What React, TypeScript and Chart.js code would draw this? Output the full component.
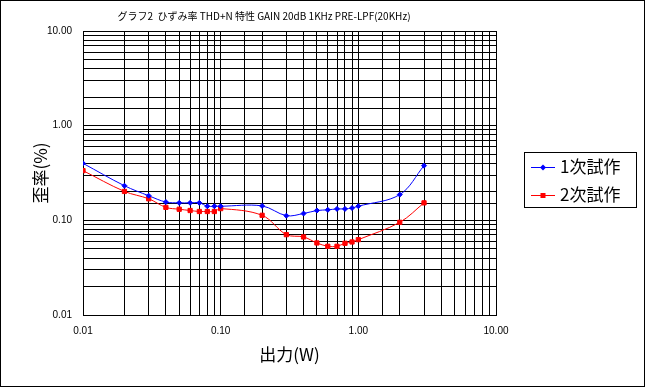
import React, { useEffect, useRef } from "react";
import { Chart, registerables } from "chart.js";

Chart.register(...registerables);

const outputW: number[] = [0.01, 0.02, 0.03, 0.04, 0.05, 0.06, 0.07, 0.08, 0.09, 0.1, 0.2, 0.3, 0.4, 0.5, 0.6, 0.7, 0.8, 0.9, 1.0, 2.0, 3.0];
const trial1: number[] = [0.40, 0.232, 0.182, 0.156, 0.153, 0.153, 0.153, 0.141, 0.141, 0.141, 0.142, 0.112, 0.118, 0.127, 0.129, 0.132, 0.132, 0.135, 0.141, 0.187, 0.378];
const trial2: number[] = [0.335, 0.202, 0.169, 0.137, 0.131, 0.127, 0.124, 0.124, 0.124, 0.133, 0.113, 0.0706, 0.0668, 0.0577, 0.0532, 0.0532, 0.0572, 0.0591, 0.0625, 0.0953, 0.153];
const seriesNames: string[] = ["1次試作", "2次試作"];
const titleText = "グラフ2  ひずみ率 THD+N 特性 GAIN 20dB 1KHz PRE-LPF(20KHz)";
const xTitle = "出力(W)";
const yTitle = "歪率(%)";

const JP = '"Noto Sans CJK JP", "Noto Sans", sans-serif';
const TICK_FONT = '"Liberation Sans", Arial, sans-serif';

const tickCb = (value: any) => {
  const v = Number(value);
  const l = Math.log10(v);
  if (Math.abs(l - Math.round(l)) < 1e-6) return v.toFixed(2);
  return "";
};

const decorPlugin = {
  id: "decor",
  afterDraw(chart: any) {
    const ctx = chart.ctx as CanvasRenderingContext2D;
    const ca = chart.chartArea;
    ctx.save();
    // outer frame
    ctx.strokeStyle = "#000";
    ctx.lineWidth = 1;
    ctx.strokeRect(0.5, 0.5, 644, 386);
    // title
    ctx.fillStyle = "#000";
    ctx.font = `10px ${JP}`;
    ctx.textAlign = "center";
    ctx.textBaseline = "middle";
    ctx.fillText(titleText, 264, 16);
    // x title
    ctx.font = `17px ${JP}`;
    ctx.fillText(xTitle, (ca.left + ca.right) / 2, 355);
    // y title
    ctx.save();
    ctx.translate(41, (ca.top + ca.bottom) / 2);
    ctx.rotate(-Math.PI / 2);
    ctx.fillText(yTitle, 0, 0);
    ctx.restore();
    // legend
    ctx.fillStyle = "#fff";
    ctx.fillRect(524, 152, 112, 55);
    ctx.strokeStyle = "#000";
    ctx.strokeRect(524.5, 152.5, 112, 55);
    const rows = [167, 195];
    chart.data.datasets.forEach((ds: any, i: number) => {
      const y = rows[i] + 0.5;
      ctx.strokeStyle = ds.borderColor;
      ctx.lineWidth = 1;
      ctx.beginPath();
      ctx.moveTo(531, y);
      ctx.lineTo(555, y);
      ctx.stroke();
      ctx.fillStyle = ds.pointBackgroundColor;
      if (ds.pointStyle === "rect") {
        ctx.fillRect(540.5, y - 2.5, 5, 5);
      } else {
        ctx.beginPath();
        ctx.moveTo(543, y - 3);
        ctx.lineTo(546, y);
        ctx.lineTo(543, y + 3);
        ctx.lineTo(540, y);
        ctx.closePath();
        ctx.fill();
      }
      ctx.fillStyle = "#000";
      ctx.font = `17px ${JP}`;
      ctx.textAlign = "left";
      ctx.textBaseline = "middle";
      ctx.fillText(ds.label, 560, rows[i]);
    });
    ctx.restore();
  },
};

export default function App() {
  const ref = useRef<HTMLCanvasElement | null>(null);
  useEffect(() => {
    document.body.style.margin = "0";
    const canvas = ref.current!;
    const chart = new Chart(canvas, {
      type: "scatter",
      data: {
        datasets: [
          {
            label: seriesNames[0],
            data: outputW.map((x, i) => ({ x, y: trial1[i] })),
            showLine: true,
            borderColor: "#0000ff",
            backgroundColor: "#0000ff",
            pointBackgroundColor: "#0000ff",
            pointBorderColor: "#0000ff",
            pointStyle: "rectRot",
            pointRadius: 2.5,
            borderWidth: 1,
            tension: 0.35,
          },
          {
            label: seriesNames[1],
            data: outputW.map((x, i) => ({ x, y: trial2[i] })),
            showLine: true,
            borderColor: "#ff0000",
            backgroundColor: "#ff0000",
            pointBackgroundColor: "#ff0000",
            pointBorderColor: "#ff0000",
            pointStyle: "rect",
            pointRadius: 3,
            borderWidth: 1,
            tension: 0.35,
          },
        ],
      },
      options: {
        responsive: false,
        animation: false,
        layout: { padding: { left: 0, top: 31, right: 151, bottom: 0 } },
        plugins: {
          legend: { display: false },
          title: { display: false },
          tooltip: { enabled: false },
        },
        scales: {
          x: {
            type: "logarithmic",
            min: 0.01,
            max: 10,
            afterFit: (s: any) => {
              s.height = 74;
            },
            grid: { color: "#000", lineWidth: 1, drawTicks: false },
            border: { color: "#000", width: 1 },
            ticks: {
              autoSkip: false,
              maxRotation: 0,
              padding: 10,
              color: "#000",
              font: { family: TICK_FONT, size: 10 },
              callback: tickCb,
            },
          },
          y: {
            type: "logarithmic",
            min: 0.01,
            max: 10,
            afterFit: (s: any) => {
              s.width = 83;
            },
            grid: { color: "#000", lineWidth: 1, drawTicks: false },
            border: { color: "#000", width: 1 },
            ticks: {
              autoSkip: false,
              padding: 11,
              color: "#000",
              font: { family: TICK_FONT, size: 10 },
              callback: tickCb,
            },
          },
        },
      },
      plugins: [decorPlugin],
    });
    return () => chart.destroy();
  }, []);
  return (
    <div style={{ position: "absolute", left: 0, top: 0, width: 647, height: 389, background: "#fff" }}>
      <canvas ref={ref} width={647} height={389} style={{ display: "block", width: 647, height: 389 }} />
    </div>
  );
}
